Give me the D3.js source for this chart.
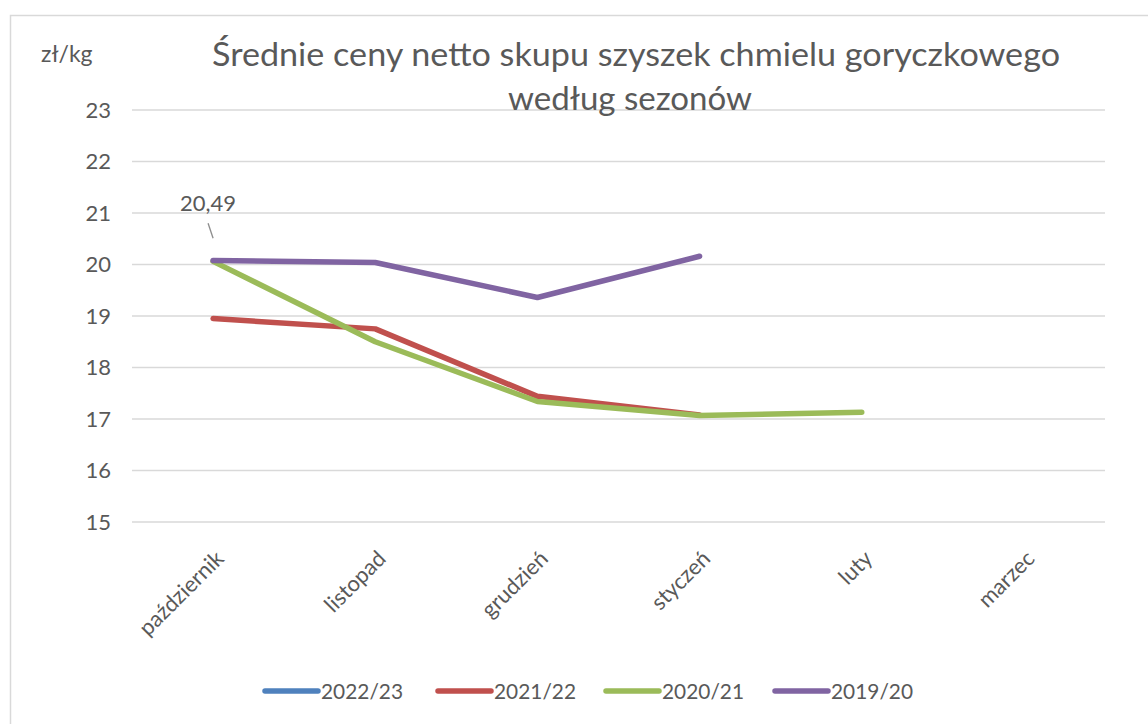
<!DOCTYPE html>
<html lang="pl">
<head>
<meta charset="utf-8">
<title>Średnie ceny netto skupu szyszek chmielu goryczkowego</title>
<script src="https://cdn.jsdelivr.net/npm/d3@7"></script>
<style>
  body { margin: 0; background: #fff; font-family: Lato, "Open Sans", sans-serif; }
  svg text { fill: #595959; }
</style>
</head>
<body>
<div id="chart"></div>
<script>
// dane
var months = ["październik", "listopad", "grudzień", "styczeń", "luty", "marzec"];
var seasons = ["2022/23", "2021/22", "2020/21", "2019/20"];
var colors = ["#4F81BD", "#C0504D", "#9BBB59", "#8064A2"];
var v2022 = [20.49, null, null, null, null, null];
var v2021 = [18.95, 18.75, 17.44, 17.08, null, null];
var v2020 = [20.06, 18.50, 17.34, 17.07, 17.13, null];
var v2019 = [20.08, 20.04, 19.36, 20.16, null, null];
var yTicks = [15, 16, 17, 18, 19, 20, 21, 22, 23];

var series = [v2022, v2021, v2020, v2019];

var width = 1148, height = 724;
var svg = d3.select("#chart").append("svg")
    .attr("width", width)
    .attr("height", height);

// ramka wykresu
svg.append("path")
    .attr("d", "M10.5," + height + "V15.5H" + width)
    .attr("fill", "none")
    .attr("stroke", "#d9d9d9")
    .attr("stroke-width", 1.5);

var x = d3.scaleBand().domain(months).range([132, 1105]);
var y = d3.scaleLinear().domain([15, 23]).range([522, 110]);

// siatka
svg.append("g")
    .selectAll("line")
    .data(yTicks)
    .join("line")
      .attr("x1", 132).attr("x2", 1105)
      .attr("y1", function(d) { return y(d); })
      .attr("y2", function(d) { return y(d); })
      .attr("stroke", "#d9d9d9")
      .attr("stroke-width", 1.5);

// oś Y
var yAxis = svg.append("g")
    .attr("transform", "translate(111,0)")
    .call(d3.axisLeft(y).tickValues(yTicks).tickSize(0).tickPadding(0));
yAxis.select(".domain").remove();
yAxis.selectAll("text")
    .style("font-family", "Lato, sans-serif")
    .style("font-size", "22px")
    .attr("fill", "#595959");

// oś X
var xAxis = svg.append("g")
    .attr("transform", "translate(0,522)")
    .call(d3.axisBottom(x).tickSize(0).tickPadding(0));
xAxis.select(".domain").remove();
xAxis.selectAll("text")
    .style("font-family", "Lato, sans-serif")
    .style("font-size", "22px")
    .attr("fill", "#595959")
    .attr("text-anchor", "end")
    .attr("dy", 0)
    .attr("transform", "translate(12,38) rotate(-45)");

// linie
var line = d3.line()
    .defined(function(d) { return d != null; })
    .x(function(d, i) { return x(months[i]) + x.bandwidth() / 2; })
    .y(function(d) { return y(d); });

svg.append("g")
    .selectAll("path")
    .data(series)
    .join("path")
      .attr("d", line)
      .attr("fill", "none")
      .attr("stroke", function(d, i) { return colors[i]; })
      .attr("stroke-width", 5.5)
      .attr("stroke-linecap", function(d) {
        return d.filter(function(v) { return v != null; }).length > 1 ? "round" : "butt";
      })
      .attr("stroke-linejoin", "round");

// etykieta danych 2022/23
var px = x(months[0]) + x.bandwidth() / 2, py = y(v2022[0]);
svg.append("line")
    .attr("x1", px).attr("y1", py - 1)
    .attr("x2", px - 5).attr("y2", py - 16)
    .attr("stroke", "#8c8c8c")
    .attr("stroke-width", 1.3);
svg.append("text")
    .attr("x", px - 5).attr("y", py - 28)
    .attr("text-anchor", "middle")
    .style("font-size", "22px")
    .text(d3.format(".2f")(v2022[0]).replace(".", ","));

// tytuł
svg.append("text")
    .attr("x", 636).attr("y", 66)
    .attr("text-anchor", "middle")
    .attr("textLength", 848)
    .attr("lengthAdjust", "spacingAndGlyphs")
    .style("font-size", "32px")
    .text("Średnie ceny netto skupu szyszek chmielu goryczkowego");
svg.append("text")
    .attr("x", 630).attr("y", 110)
    .attr("text-anchor", "middle")
    .attr("textLength", 244)
    .attr("lengthAdjust", "spacingAndGlyphs")
    .style("font-size", "32px")
    .text("według sezonów");

svg.append("text")
    .attr("x", 41).attr("y", 62)
    .style("font-size", "23px")
    .text("zł/kg");

// legenda
var legend = svg.append("g").attr("transform", "translate(0,691)");
var lx = [265, 438, 606, 775];
seasons.forEach(function(s, i) {
  legend.append("line")
      .attr("x1", lx[i]).attr("x2", lx[i] + 53)
      .attr("stroke", colors[i])
      .attr("stroke-width", 5.5)
      .attr("stroke-linecap", "round");
  legend.append("text")
      .attr("x", lx[i] + 56).attr("y", 8)
      .attr("textLength", 82)
      .attr("lengthAdjust", "spacingAndGlyphs")
      .style("font-size", "22px")
      .text(s);
});
</script>
</body>
</html>
